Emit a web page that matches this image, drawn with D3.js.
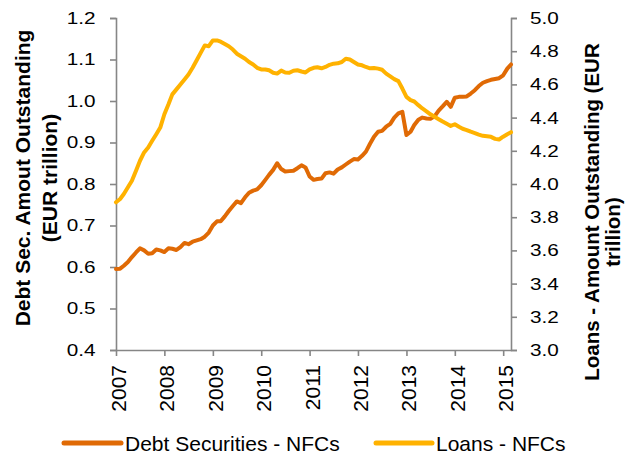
<!DOCTYPE html>
<html>
<head>
<meta charset="utf-8">
<script src="https://cdn.jsdelivr.net/npm/d3@7"></script>
<style>
  html, body { margin: 0; padding: 0; background: #fff; }
  svg { display: block; font-family: "Liberation Sans", Arial, sans-serif; }
</style>
</head>
<body>
<svg id="chart" width="625" height="456"></svg>
<script>
// Monthly stock of euro-area NFC financing, Jan 2007 – Mar 2015 (EUR trillion)
const debtSecurities = [
  0.595,0.596,0.603,0.612,0.624,0.635,0.645,0.640,0.632,0.633,
  0.642,0.640,0.636,0.645,0.644,0.641,0.648,0.658,0.655,0.661,
  0.664,0.667,0.673,0.683,0.700,0.710,0.710,0.722,0.735,0.747,
  0.758,0.754,0.768,0.779,0.784,0.787,0.797,0.810,0.822,0.834,
  0.850,0.836,0.830,0.831,0.832,0.838,0.845,0.840,0.818,0.810,
  0.812,0.813,0.826,0.828,0.825,0.835,0.840,0.847,0.854,0.860,
  0.859,0.868,0.878,0.897,0.914,0.926,0.928,0.938,0.945,0.960,
  0.970,0.974,0.918,0.926,0.942,0.955,0.960,0.958,0.957,0.963,
  0.977,0.987,0.998,0.986,1.008,1.010,1.010,1.011,1.018,1.026,
  1.036,1.044,1.048,1.051,1.053,1.055,1.062,1.078,1.088
];
const loans = [
  3.890,3.910,3.940,3.980,4.020,4.080,4.140,4.190,4.220,4.260,
  4.300,4.340,4.420,4.480,4.540,4.570,4.600,4.630,4.660,4.700,
  4.745,4.790,4.835,4.830,4.865,4.865,4.857,4.843,4.830,4.810,
  4.785,4.770,4.755,4.735,4.720,4.700,4.690,4.690,4.685,4.670,
  4.665,4.683,4.672,4.670,4.682,4.685,4.678,4.672,4.690,4.700,
  4.703,4.697,4.705,4.718,4.725,4.727,4.735,4.755,4.750,4.735,
  4.720,4.715,4.705,4.697,4.699,4.695,4.688,4.665,4.648,4.632,
  4.620,4.575,4.525,4.505,4.497,4.475,4.455,4.438,4.420,4.405,
  4.390,4.376,4.363,4.350,4.360,4.345,4.333,4.325,4.315,4.307,
  4.298,4.290,4.287,4.284,4.272,4.268,4.285,4.300,4.312
];
const months = d3.timeMonth.range(new Date(2007, 0, 1), new Date(2015, 3, 1));
const yearTicks = [2007, 2008, 2009, 2010, 2011, 2012, 2013, 2014, 2015];
const leftTicks = [0.4, 0.5, 0.6, 0.7, 0.8, 0.9, 1.0, 1.1, 1.2];
const rightTicks = [3.0, 3.2, 3.4, 3.6, 3.8, 4.0, 4.2, 4.4, 4.6, 4.8, 5.0];
const seriesNames = ["Debt Securities - NFCs", "Loans - NFCs"];
const seriesColors = ["#E06A05", "#FFB200"];

const svg = d3.select("#chart");
const plot = { left: 116, right: 511, top: 18, bottom: 350 };
const axisColor = "#868686";

const x = d3.scaleTime()
  .domain([months[0], months[months.length - 1]])
  .range([plot.left, plot.right]);
const yL = d3.scaleLinear().domain([0.4, 1.2]).range([plot.bottom, plot.top]);
const yR = d3.scaleLinear().domain([3.0, 5.0]).range([plot.bottom, plot.top]);

function styleAxis(g) {
  g.selectAll(".domain").attr("stroke", axisColor).attr("stroke-width", 1.6);
  g.selectAll(".tick line").attr("stroke", axisColor).attr("stroke-width", 1.6);
  g.selectAll("text").attr("fill", "#000");
}

// left value axis
const gL = svg.append("g")
  .attr("transform", `translate(${plot.left},0)`)
  .call(d3.axisLeft(yL).tickValues(leftTicks).tickFormat(d3.format(".1f"))
    .tickSizeInner(6).tickSizeOuter(6).tickPadding(14));
styleAxis(gL);
gL.selectAll(".tick text")
  .attr("font-size", 17)
  .attr("text-anchor", "end")
  .attr("transform", "translate(-18,0) scale(1.22,1) translate(18,0)");

// right value axis
const gR = svg.append("g")
  .attr("transform", `translate(${plot.right},0)`)
  .call(d3.axisRight(yR).tickValues(rightTicks).tickFormat(d3.format(".1f"))
    .tickSizeInner(6).tickSizeOuter(6).tickPadding(13));
styleAxis(gR);
gR.selectAll(".tick text")
  .attr("font-size", 17)
  .attr("text-anchor", "start")
  .attr("transform", "translate(19,0) scale(1.22,1) translate(-19,0)");

// bottom date axis
const gX = svg.append("g")
  .attr("transform", `translate(0,${plot.bottom})`)
  .call(d3.axisBottom(x)
    .tickValues(yearTicks.map(yr => new Date(yr, 0, 1)))
    .tickFormat(d3.timeFormat("%Y"))
    .tickSizeInner(6).tickSizeOuter(0));
styleAxis(gX);
gX.selectAll(".tick text")
  .attr("font-size", 21)
  .attr("text-anchor", "end")
  .attr("dy", null)
  .attr("y", 0)
  .attr("x", 0)
  .attr("dominant-baseline", "central")
  .attr("transform", "translate(2,15) rotate(-90)");

// series lines
const lineDebt = d3.line().x((d, i) => x(months[i])).y(d => yL(d));
const lineLoans = d3.line().x((d, i) => x(months[i])).y(d => yR(d));

svg.append("path")
  .datum(debtSecurities)
  .attr("d", lineDebt)
  .attr("fill", "none")
  .attr("stroke", seriesColors[0])
  .attr("stroke-width", 4)
  .attr("stroke-linejoin", "round")
  .attr("stroke-linecap", "round");

svg.append("path")
  .datum(loans)
  .attr("d", lineLoans)
  .attr("fill", "none")
  .attr("stroke", seriesColors[1])
  .attr("stroke-width", 4)
  .attr("stroke-linejoin", "round")
  .attr("stroke-linecap", "round");

// axis titles
function rotatedTitle(lines, cx, cy, gap, size) {
  const t = svg.append("text")
    .attr("transform", `translate(${cx},${cy}) rotate(-90)`)
    .attr("text-anchor", "middle")
    .attr("font-size", size)
    .attr("font-weight", "bold")
    .attr("fill", "#000");
  lines.forEach((ln, i) => {
    t.append("tspan").attr("x", ln.dx || 0).attr("y", i * gap).text(ln.text);
  });
}
rotatedTitle([{ text: "Debt Sec. Amout Outstanding" }, { text: "(EUR trillion)" }], 30, 178, 27, 21);
rotatedTitle([{ text: "Loans - Amount Outstanding (EUR" }, { text: "trillion)", dx: -20 }], 599, 212, 21, 20.5);

// legend
const legendItems = [
  { x0: 64, x1: 121, tx: 125 },
  { x0: 376, x1: 432, tx: 436 }
];
legendItems.forEach((it, i) => {
  svg.append("line")
    .attr("x1", it.x0).attr("x2", it.x1)
    .attr("y1", 443).attr("y2", 443)
    .attr("stroke", seriesColors[i])
    .attr("stroke-width", 5)
    .attr("stroke-linecap", "round");
  svg.append("text")
    .attr("x", it.tx).attr("y", 450.5)
    .attr("font-size", 21)
    .attr("fill", "#000")
    .text(seriesNames[i]);
});
</script>
</body>
</html>
